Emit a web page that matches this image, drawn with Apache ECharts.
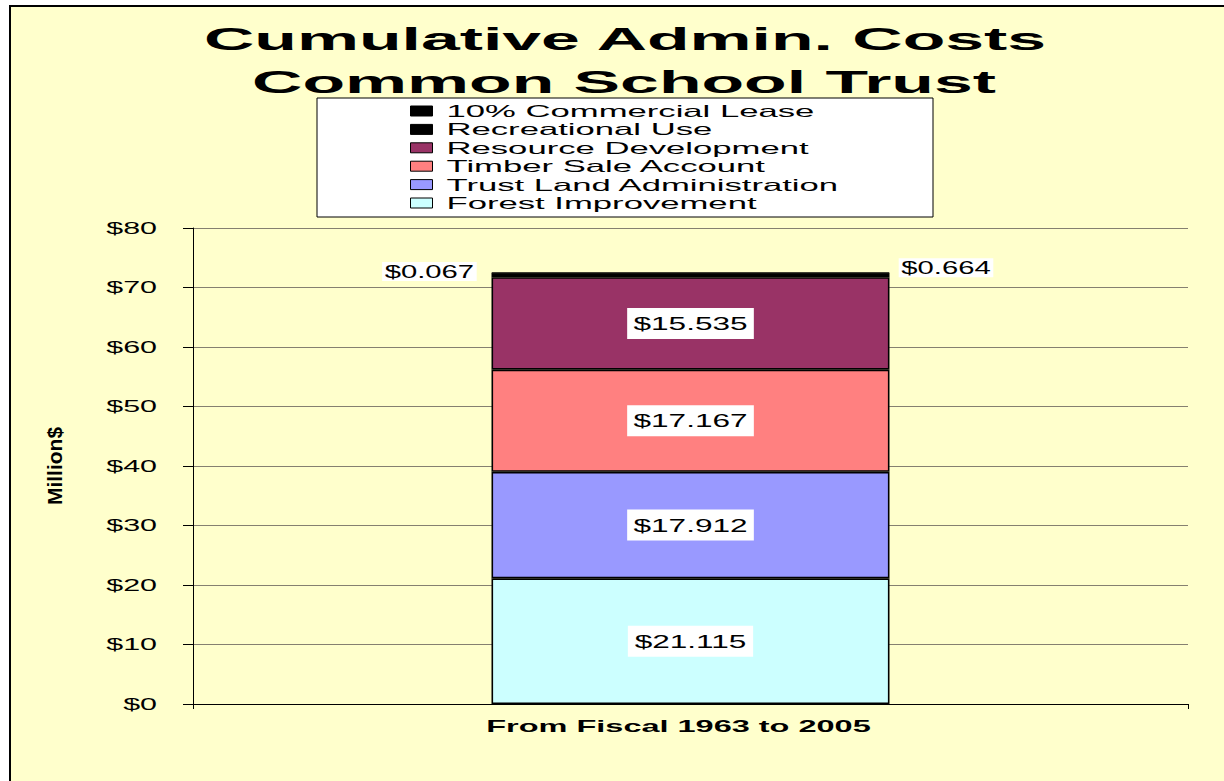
<!DOCTYPE html>
<html><head><meta charset="utf-8">
<script src="https://cdn.jsdelivr.net/npm/echarts@6/dist/echarts.min.js"></script>
<style>
html,body{margin:0;padding:0;background:#fff;}
#chart{width:1224px;height:781px;}
</style></head>
<body><div id="chart"></div>
<script>
const categories = ['From Fiscal 1963 to 2005'];
const seriesNames = ['Forest Improvement', 'Trust Land Administration', 'Timber Sale Account', 'Resource Development', 'Recreational Use', '10% Commercial Lease'];
const forestImprovement = [21.115];
const trustLandAdministration = [17.912];
const timberSaleAccount = [17.167];
const resourceDevelopment = [15.535];
const recreationalUse = [0.664];
const commercialLease = [0.067];
const yMin = 0, yMax = 80, yStep = 10;
const seriesColors = ['#CCFFFF', '#9999FF', '#FF8080', '#993366', '#000000', '#000000'];

const FONT = '"Liberation Sans", Arial, sans-serif';
const fmt = p => '$' + p.value.toFixed(3);

// horizontal glyph stretch per font size (the reference text is drawn wide)
const stretchBySize = { 16: 1.9, 16.5: 2.1, 19: 1.66, 18.5: 1.58, 17: 1.91 };

const insideLabel = {
  show: true, position: 'inside', formatter: fmt, color: '#000',
  fontSize: 19, fontFamily: FONT, lineHeight: 19,
  backgroundColor: '#fff', padding: [6, 29]
};

function makeSeries(i, data, label) {
  return {
    name: seriesNames[i], type: 'bar', stack: 'total', data: data,
    barWidth: '40%',
    itemStyle: { color: seriesColors[i], borderColor: '#000', borderWidth: 1.6 },
    label: label,
    emphasis: { disabled: true }
  };
}

const chart = echarts.init(document.getElementById('chart'), null, { renderer: 'svg' });

function applyStretch() {
  document.querySelectorAll('#chart svg text').forEach(t => {
    const m = /(\d+(?:\.\d+)?)px/.exec(t.getAttribute('style') || '');
    if (!m) return;
    const f = stretchBySize[parseFloat(m[1])];
    if (!f) return;
    t.removeAttribute('textLength');
    const len = t.getComputedTextLength();
    if (len > 0) {
      t.setAttribute('textLength', (len * f).toFixed(2));
      t.setAttribute('lengthAdjust', 'spacingAndGlyphs');
    }
  });
}

chart.setOption({
  animation: false,
  backgroundColor: '#fff',
  graphic: [
    { type: 'rect', z: -10, shape: { x: 10, y: 6, width: 1400, height: 900 },
      style: { fill: '#FFFFCC', stroke: '#000', lineWidth: 2 } },
    { type: 'rect', z: 1, shape: { x: 317, y: 98, width: 616, height: 119 },
      style: { fill: '#fff', stroke: '#000', lineWidth: 1 } },
    { type: 'text', z: 10, x: 625, y: 38.5, scaleX: 2.18,
      style: { text: 'Cumulative Admin. Costs', font: 'bold 32px ' + FONT, fill: '#000',
        align: 'center', verticalAlign: 'middle', textAlign: 'center', textVerticalAlign: 'middle' } },
    { type: 'text', z: 10, x: 624, y: 81.5, scaleX: 2.18,
      style: { text: 'Common School Trust', font: 'bold 32px ' + FONT, fill: '#000',
        align: 'center', verticalAlign: 'middle', textAlign: 'center', textVerticalAlign: 'middle' } }
  ],
  legend: {
    data: seriesNames.slice().reverse(),
    orient: 'vertical', left: 410, top: 102, padding: 0, z: 5,
    itemWidth: 22, itemHeight: 10, itemGap: 0.4, icon: 'rect',
    selectedMode: false,
    itemStyle: { borderColor: '#000', borderWidth: 1 },
    textStyle: { fontSize: 16.5, fontFamily: FONT, color: '#000', lineHeight: 18, padding: [0, 0, 0, 9] }
  },
  grid: { left: 193, right: 36, top: 228, bottom: 77 },
  xAxis: {
    type: 'category', data: categories,
    axisLine: { lineStyle: { color: '#000', width: 1 } },
    axisTick: { show: true, length: 5, lineStyle: { color: '#000' } },
    axisLabel: { fontSize: 17, fontWeight: 'bold', fontFamily: FONT, color: '#000', margin: 14, padding: [0, 24, 0, 0] }
  },
  yAxis: {
    type: 'value', min: yMin, max: yMax, interval: yStep,
    name: 'Million$', nameLocation: 'middle', nameGap: 128, nameRotate: 90,
    nameTextStyle: { fontSize: 21, fontWeight: 'bold', fontFamily: FONT, color: '#000' },
    axisLine: { show: true, lineStyle: { color: '#000', width: 1 } },
    axisTick: { show: true, inside: false, length: 10, lineStyle: { color: '#000' } },
    axisLabel: { formatter: v => '$' + v, fontSize: 16, fontFamily: FONT, color: '#000', margin: 36 },
    splitLine: { lineStyle: { color: '#858070', width: 1 } }
  },
  series: [
    makeSeries(0, forestImprovement, insideLabel),
    makeSeries(1, trustLandAdministration, insideLabel),
    makeSeries(2, timberSaleAccount, insideLabel),
    makeSeries(3, resourceDevelopment, insideLabel),
    makeSeries(4, recreationalUse, {
      show: true, position: 'right', align: 'center', distance: 56.5, offset: [0, -7.5], formatter: fmt,
      color: '#000', fontSize: 18.5, fontFamily: FONT, lineHeight: 17,
      backgroundColor: '#fff', padding: [1, 19]
    }),
    makeSeries(5, commercialLease, {
      show: true, position: 'left', align: 'center', distance: 61.5, offset: [0, -1.5], formatter: fmt,
      color: '#000', fontSize: 18.5, fontFamily: FONT, lineHeight: 17,
      backgroundColor: '#fff', padding: [1, 19]
    })
  ]
});
applyStretch();
chart.on('finished', applyStretch);
</script>
</body></html>
